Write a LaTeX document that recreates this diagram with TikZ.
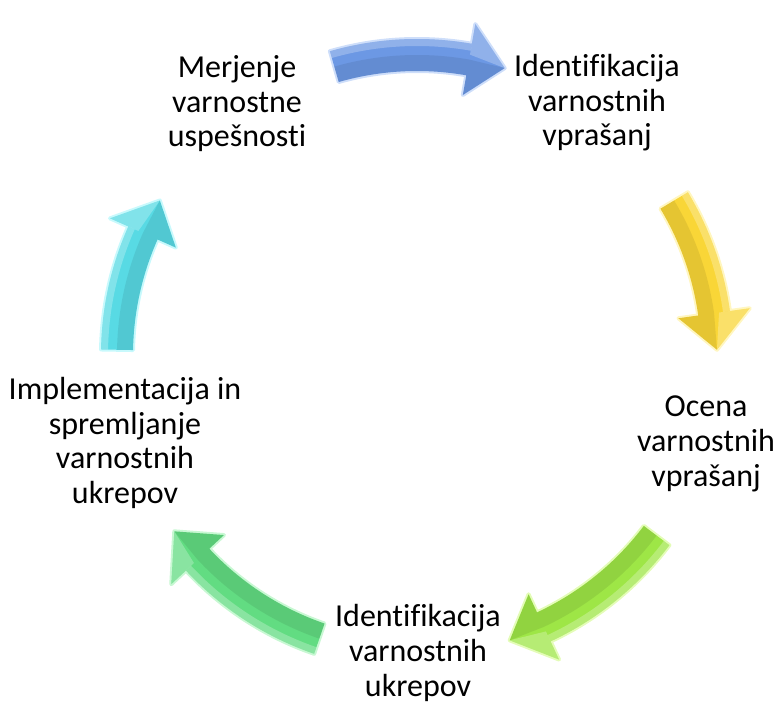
\documentclass[tikz,border=0pt]{standalone}
\usepackage{fontspec}
\setmainfont{Carlito}[Ligatures=NoCommon]
\definecolor{ablue}{RGB}{108,152,228}
\definecolor{abluel}{RGB}{165,195,245}
\definecolor{ayel}{RGB}{249,214,55}
\definecolor{ayell}{RGB}{255,238,140}
\definecolor{alime}{RGB}{158,230,70}
\definecolor{aliml}{RGB}{205,250,125}
\definecolor{agrn}{RGB}{98,220,130}
\definecolor{agrnl}{RGB}{155,242,175}
\definecolor{acyan}{RGB}{88,218,228}
\definecolor{acyanl}{RGB}{155,244,250}
% #1 tail angle, #2 tip angle, #3 fill, #4 glow
\newcommand\cycarrow[4]{%
  \pgfmathsetmacro\aT{#1}%
  \pgfmathsetmacro\aH{#2+7}%
  \pgfmathsetmacro\aP{#2}%
  \begin{scope}[shift={(C)}]
    \draw[#4, line width=3, opacity=0.55, line join=round]
      (\aT:316) arc[start angle=\aT, end angle=\aH, radius=316] -- (\aH:336) -- (\aP:300) -- (\aH:264) -- (\aH:284)
      arc[start angle=\aH, end angle=\aT, radius=284] -- cycle;
    \fill[#3]
      (\aT:316) arc[start angle=\aT, end angle=\aH, radius=316] -- (\aH:336) -- (\aP:300) -- (\aH:264) -- (\aH:284)
      arc[start angle=\aH, end angle=\aT, radius=284] -- cycle;
    \fill[black, opacity=0.08]
      (\aT:300) arc[start angle=\aT, end angle=\aH, radius=300] -- (\aP:300) -- (\aH:264) -- (\aH:284)
      arc[start angle=\aH, end angle=\aT, radius=284] -- cycle;
    \fill[white, opacity=0.25]
      (\aT:316) arc[start angle=\aT, end angle=\aH, radius=316] -- (\aH:309) arc[start angle=\aH, end angle=\aT, radius=309] -- cycle;
    \fill[white, opacity=0.25] (\aH:336) -- (\aP:300) -- (\aH:305) -- cycle;
  \end{scope}
}
\begin{document}
\begin{tikzpicture}[x=0.75pt,y=0.75pt,
  lbl/.style={align=center, font=\fontsize{24}{25.9}\selectfont, text=black, inner sep=0pt, anchor=base}]
\useasboundingbox (0,0) rectangle (778,701);
\coordinate (C) at (417,346);
\cycarrow{106}{73}{ablue}{abluel}
\cycarrow{31}{1}{ayel}{ayell}
\cycarrow{-37}{-72}{alime}{aliml}
\cycarrow{-109}{-144}{agrn}{agrnl}
\cycarrow{179}{149}{acyan}{acyanl}
\node[lbl] (n1) at (237,554) {Merjenje\\varnostne\\uspešnosti};
\node[lbl] (n2) at (597,555) {Identifikacija\\varnostnih\\vprašanj};
\node[lbl] (n3) at (706,215) {Ocena\\varnostnih\\vprašanj};
\node[lbl] (n4) at (418,5) {Identifikacija\\varnostnih\\ukrepov};
\node[lbl] (n5) at (125,197.5) {Implementacija in\\spremljanje\\varnostnih\\ukrepov};
\end{tikzpicture}
\end{document}
